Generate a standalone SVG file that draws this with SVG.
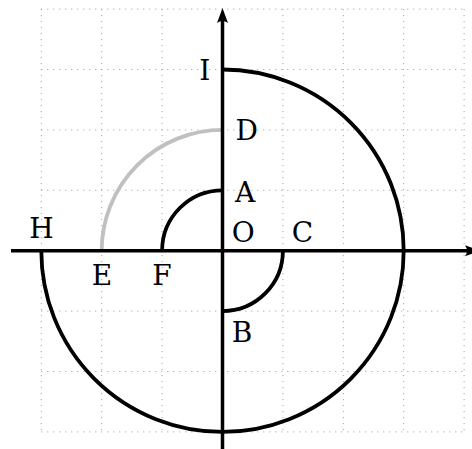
<svg xmlns="http://www.w3.org/2000/svg" width="472" height="449" viewBox="0 0 472 449">
<style>
.grid line{stroke:#999;stroke-width:1;stroke-dasharray:1 5;}
.axis{stroke:#000;stroke-width:3.5;fill:none;}
.arc{stroke:#000;stroke-width:3.8;fill:none;}
.grey{stroke:#c0c0c0;stroke-width:3.8;fill:none;}
text{font-family:"DejaVu Serif",serif;font-size:28px;fill:#000;text-anchor:middle;}
</style>
<defs>
<marker id="arr" viewBox="-16 -6 16 12" refX="-12" refY="0" markerWidth="16" markerHeight="12" markerUnits="userSpaceOnUse" orient="auto">
<path d="M0,0 L-15,-5.5 Q-11,0 -15,5.5 Z" fill="#000"/>
</marker>
</defs>
<rect width="472" height="449" fill="#fff"/>
<g class="grid" id="grid">
<line x1="41.3" y1="9.1" x2="41.3" y2="431.9"/>
<line x1="101.7" y1="9.1" x2="101.7" y2="431.9"/>
<line x1="162.1" y1="9.1" x2="162.1" y2="431.9"/>
<line x1="222.5" y1="9.1" x2="222.5" y2="431.9"/>
<line x1="282.9" y1="9.1" x2="282.9" y2="431.9"/>
<line x1="343.3" y1="9.1" x2="343.3" y2="431.9"/>
<line x1="403.7" y1="9.1" x2="403.7" y2="431.9"/>
<line x1="464.1" y1="9.1" x2="464.1" y2="431.9"/>
<line x1="41.3" y1="9.1" x2="464.1" y2="9.1"/>
<line x1="41.3" y1="69.5" x2="464.1" y2="69.5"/>
<line x1="41.3" y1="129.9" x2="464.1" y2="129.9"/>
<line x1="41.3" y1="190.3" x2="464.1" y2="190.3"/>
<line x1="41.3" y1="250.7" x2="464.1" y2="250.7"/>
<line x1="41.3" y1="311.1" x2="464.1" y2="311.1"/>
<line x1="41.3" y1="371.5" x2="464.1" y2="371.5"/>
<line x1="41.3" y1="431.9" x2="464.1" y2="431.9"/>
</g>
<g id="connectors">
<path id="arc-big" class="arc" d="M222.5,69.5 A181.2,181.2 0 1 1 41.3,250.7"/>
<path id="arc-FA" class="arc" d="M162.1,250.7 A60.4,60.4 0 0 1 222.5,190.3"/>
<path id="arc-CB" class="arc" d="M282.9,250.7 A60.4,60.4 0 0 1 222.5,311.1"/>
<path id="arc-ED" class="grey" d="M101.7,250.7 A120.8,120.8 0 0 1 222.5,129.9"/>
<line id="x-axis" class="axis" x1="11" y1="250.7" x2="468" y2="250.7" marker-end="url(#arr)"/>
<line id="y-axis" class="axis" x1="222.5" y1="452" x2="222.5" y2="20" marker-end="url(#arr)"/>
</g>
<g id="I"><text x="204.7" y="79.5">I</text></g>
<g id="D"><text x="246.7" y="140">D</text></g>
<g id="A"><text x="245" y="201.5">A</text></g>
<g id="O"><text x="243.3" y="242">O</text></g>
<g id="C"><text x="302.5" y="242">C</text></g>
<g id="H"><text x="41.5" y="237.7">H</text></g>
<g id="E"><text x="102" y="285">E</text></g>
<g id="F"><text x="162" y="285">F</text></g>
<g id="B"><text x="242" y="341.5">B</text></g>
</svg>
